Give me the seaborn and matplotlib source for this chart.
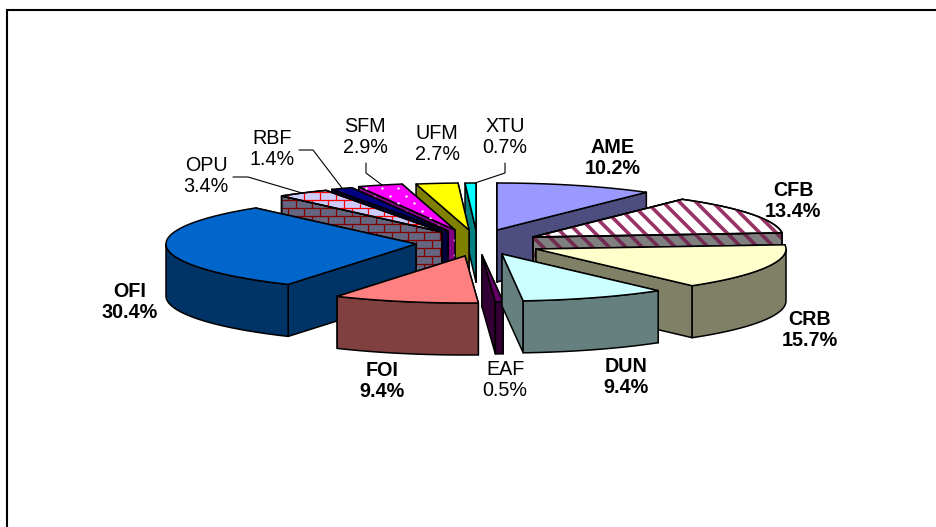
import numpy as np
import matplotlib
matplotlib.use("Agg")
import matplotlib.pyplot as plt
from matplotlib.collections import LineCollection
from matplotlib.patches import Polygon
import seaborn as sns

# Shares in clockwise order, starting at twelve o'clock
names = ["AME", "CFB", "CRB", "DUN", "EAF", "FOI", "OFI", "OPU", "RBF", "SFM", "UFM", "XTU"]
shares = [10.2, 13.4, 15.7, 9.4, 0.5, 9.4, 30.4, 3.4, 1.4, 2.9, 2.7, 0.7]
bold_names = ["AME", "CFB", "CRB", "DUN", "FOI", "OFI"]

# Face colours of each slice
top_colors = ["#9999FF", "#FFFFFF", "#FFFFCC", "#CCFFFF", "#660066", "#FF8080",
              "#0066CC", "#CCCCFF", "#000080", "#FF00FF", "#FFFF00", "#00FFFF"]
side_colors = ["#4D4D80", "#808080", "#808066", "#668080", "#330033", "#804040",
               "#003366", "#666680", "#000040", "#800080", "#808000", "#008080"]

# Where each exploded slice has its tip, in figure pixels
tip_x = [497, 533, 536, 502, 482, 465, 416, 442, 448, 455, 469, 476]
tip_y = [230, 237, 249, 254, 255, 256, 244, 232, 231, 230, 230, 230]

# Label centres (figure pixels) and elbow leader lines
label_x = [613, 793, 810, 626, 505, 382, 130, 206, 272, 365, 437, 505]
label_y = [158, 201, 330, 377, 380, 381, 302, 176, 149, 137, 144, 137]
leaders = {
    "OPU": ([233, 248, 302], [177, 177, 193]),
    "RBF": ([299, 313, 342], [150, 150, 188]),
    "SFM": ([366, 366, 382], [163, 173, 185]),
    "XTU": ([505, 505, 475], [163, 173, 183]),
}

draw_order = ["XTU", "UFM", "SFM", "RBF", "OPU", "OFI", "AME", "CFB", "CRB", "EAF", "DUN", "FOI"]

RX, RY, DEPTH = 250.0, 47.0, 52.0
EDGE_LW = 1.1

sns.set_theme(style="white")
plt.rcParams["font.family"] = ["Liberation Sans", "DejaVu Sans"]

fig = plt.figure(figsize=(9.36, 5.27), dpi=100)
ax = fig.add_axes([0, 0, 1, 1])
ax.set_xlim(0, 936)
ax.set_ylim(527, 0)
ax.set_axis_off()

layer = [10]


def next_z():
    layer[0] += 1
    return layer[0]


def add_face(points, fill):
    patch = Polygon(points, closed=True, facecolor=fill, edgecolor="black",
                    linewidth=EDGE_LW, joinstyle="round", zorder=next_z())
    ax.add_patch(patch)
    return patch


def add_lines(segments, clip, color, width):
    # Texture strokes sit just under a re-stroked outline of the face they fill
    lines = LineCollection(segments, colors=color, linewidths=width, zorder=next_z())
    ax.add_collection(lines)
    lines.set_clip_path(clip)
    outline = Polygon(clip.get_xy(), closed=True, facecolor="none", edgecolor="black",
                      linewidth=EDGE_LW, zorder=next_z())
    ax.add_patch(outline)


def stripes(clip, color):
    offsets = np.arange(-400, 900, 16.5) + 3
    segs = [[(o, 0), (o + 527, 527)] for o in offsets]
    add_lines(segs, clip, color, 2.6)


def bricks(clip, color):
    segs = []
    rows = np.arange(0, 527, 8.0)
    for i, y in enumerate(rows):
        segs.append([(0, y), (936, y)])
        for x in np.arange(0, 936, 16.0) + (8.0 if i % 2 else 0.0):
            segs.append([(x, y), (x, y + 8.0)])
    add_lines(segs, clip, color, 0.9)


def dots(clip, color):
    xs, ys = [], []
    for i, y in enumerate(np.arange(188.3 - 7.4 * 10, 300, 7.4)):
        for x in np.arange(382.3 - 160, 560, 16.0) + (8.0 if i % 2 else 0.0):
            xs.append(x)
            ys.append(y)
    pts = ax.scatter(xs, ys, s=3.0, color=color, linewidths=0, zorder=next_z())
    pts.set_clip_path(clip)


def texture(name, patch, on_top):
    if name == "CFB":
        stripes(patch, "#993366" if on_top else "#732B52")
    elif name == "OPU":
        bricks(patch, "#FF0000" if on_top else "#800000")
    elif name == "SFM":
        dots(patch, "#FFFFFF" if on_top else "#B060B0")


def rim(cx, cy, start, stop, n=60):
    angles = np.radians(np.linspace(start, stop, n))
    return cx + RX * np.sin(angles), cy - RY * np.cos(angles)


total = sum(shares)
edges = np.concatenate([[0.0], np.cumsum(shares)]) / total * 360.0

for name in draw_order:
    i = names.index(name)
    a0, a1 = edges[i], edges[i + 1]
    cx, cy = tip_x[i], tip_y[i]

    # Cut faces, the one further back first
    ends = sorted([a0, a1], key=lambda a: -np.cos(np.radians(a)))
    for a in ends:
        ex, ey = rim(cx, cy, a, a, 1)
        face = add_face([(cx, cy), (ex[0], ey[0]), (ex[0], ey[0] + DEPTH), (cx, cy + DEPTH)],
                        side_colors[i])
        texture(name, face, False)

    # Curved wall: only the part facing the viewer
    lo, hi = max(a0, 90.0), min(a1, 270.0)
    if hi > lo:
        ax_, ay_ = rim(cx, cy, lo, hi)
        wall = np.vstack([np.column_stack([ax_, ay_]),
                          np.column_stack([ax_[::-1], ay_[::-1] + DEPTH])])
        face = add_face(wall, side_colors[i])
        texture(name, face, False)

    # Top of the slice
    tx, ty = rim(cx, cy, a0, a1)
    top = np.vstack([[(cx, cy)], np.column_stack([tx, ty])])
    face = add_face(top, top_colors[i])
    texture(name, face, True)

for i, name in enumerate(names):
    ax.text(label_x[i], label_y[i], f"{name}\n{shares[i]:.1f}%", ha="center", va="center",
            fontsize=14.2, linespacing=1.16, color="black",
            fontweight="bold" if name in bold_names else "normal", zorder=100)

for xs, ys in leaders.values():
    ax.plot(xs, ys, color="black", linewidth=0.8, zorder=90, solid_joinstyle="miter")

# Chart frame: only its top and left edges fall inside the canvas
ax.plot([7, 7, 936], [527, 10, 10], color="black", linewidth=1.5,
        solid_joinstyle="miter", zorder=95)

sns.despine(ax=ax, left=True, bottom=True)
fig.savefig("out.png", dpi=100, facecolor="white")
